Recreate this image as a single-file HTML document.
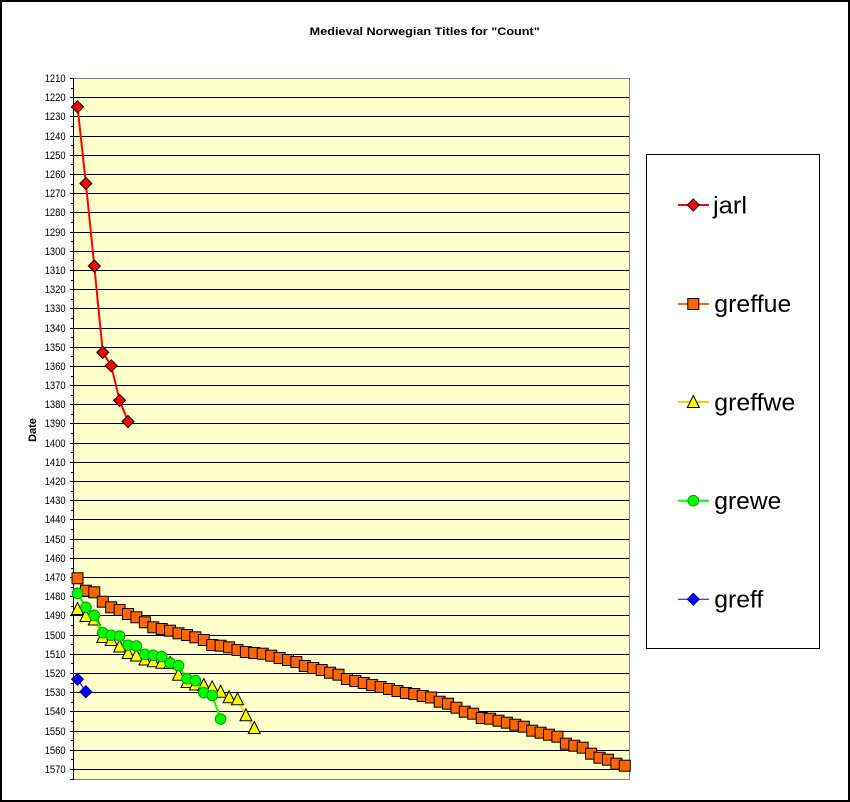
<!DOCTYPE html>
<html><head><meta charset="utf-8"><style>
html,body{margin:0;padding:0;background:#fff;}
svg{display:block;}
text{font-family:"Liberation Sans",Arial,sans-serif;}
</style></head><body>
<svg width="850" height="802" viewBox="0 0 850 802" xmlns="http://www.w3.org/2000/svg">
<rect x="0" y="0" width="850" height="802" fill="#fff"/>
<rect x="1" y="1" width="848" height="800" fill="none" stroke="#000" stroke-width="2"/>
<text x="424.7" y="35" font-size="11" font-weight="bold" text-anchor="middle" textLength="230" lengthAdjust="spacingAndGlyphs">Medieval Norwegian Titles for "Count"</text>
<text transform="translate(36,430) rotate(-90)" font-size="11" font-weight="bold" text-anchor="middle">Date</text>
<!-- plot area -->
<rect x="73.5" y="78.5" width="556" height="701" fill="#FFFFCC" stroke="#808080" stroke-width="1"/>
<path shape-rendering="crispEdges" stroke="#000" stroke-width="1" fill="none" d="M74 97.5H629M74 116.5H629M74 136.5H629M74 155.5H629M74 174.5H629M74 193.5H629M74 212.5H629M74 232.5H629M74 251.5H629M74 270.5H629M74 289.5H629M74 308.5H629M74 328.5H629M74 347.5H629M74 366.5H629M74 385.5H629M74 404.5H629M74 423.5H629M74 443.5H629M74 462.5H629M74 481.5H629M74 500.5H629M74 519.5H629M74 539.5H629M74 558.5H629M74 577.5H629M74 596.5H629M74 615.5H629M74 635.5H629M74 654.5H629M74 673.5H629M74 692.5H629M74 711.5H629M74 731.5H629M74 750.5H629M74 769.5H629"/>
<path shape-rendering="crispEdges" stroke="#000" stroke-width="1" fill="none" d="M73.5 78V780M70 78.5H73M70 97.5H73M70 116.5H73M70 136.5H73M70 155.5H73M70 174.5H73M70 193.5H73M70 212.5H73M70 232.5H73M70 251.5H73M70 270.5H73M70 289.5H73M70 308.5H73M70 328.5H73M70 347.5H73M70 366.5H73M70 385.5H73M70 404.5H73M70 423.5H73M70 443.5H73M70 462.5H73M70 481.5H73M70 500.5H73M70 519.5H73M70 539.5H73M70 558.5H73M70 577.5H73M70 596.5H73M70 615.5H73M70 635.5H73M70 654.5H73M70 673.5H73M70 692.5H73M70 711.5H73M70 731.5H73M70 750.5H73M70 769.5H73M71 88.5H73M71 107.5H73M71 126.5H73M71 145.5H73M71 164.5H73M71 184.5H73M71 203.5H73M71 222.5H73M71 241.5H73M71 260.5H73M71 280.5H73M71 299.5H73M71 318.5H73M71 337.5H73M71 356.5H73M71 376.5H73M71 395.5H73M71 414.5H73M71 433.5H73M71 452.5H73M71 472.5H73M71 491.5H73M71 510.5H73M71 529.5H73M71 548.5H73M71 568.5H73M71 587.5H73M71 606.5H73M71 625.5H73M71 644.5H73M71 663.5H73M71 683.5H73M71 702.5H73M71 721.5H73M71 740.5H73M71 759.5H73M70 779.5H73"/>
<g font-size="11" text-anchor="end">
<text x="65.7" y="82" textLength="21" lengthAdjust="spacingAndGlyphs">1210</text>
<text x="65.7" y="101" textLength="21" lengthAdjust="spacingAndGlyphs">1220</text>
<text x="65.7" y="120" textLength="21" lengthAdjust="spacingAndGlyphs">1230</text>
<text x="65.7" y="140" textLength="21" lengthAdjust="spacingAndGlyphs">1240</text>
<text x="65.7" y="159" textLength="21" lengthAdjust="spacingAndGlyphs">1250</text>
<text x="65.7" y="178" textLength="21" lengthAdjust="spacingAndGlyphs">1260</text>
<text x="65.7" y="197" textLength="21" lengthAdjust="spacingAndGlyphs">1270</text>
<text x="65.7" y="216" textLength="21" lengthAdjust="spacingAndGlyphs">1280</text>
<text x="65.7" y="236" textLength="21" lengthAdjust="spacingAndGlyphs">1290</text>
<text x="65.7" y="255" textLength="21" lengthAdjust="spacingAndGlyphs">1300</text>
<text x="65.7" y="274" textLength="21" lengthAdjust="spacingAndGlyphs">1310</text>
<text x="65.7" y="293" textLength="21" lengthAdjust="spacingAndGlyphs">1320</text>
<text x="65.7" y="312" textLength="21" lengthAdjust="spacingAndGlyphs">1330</text>
<text x="65.7" y="332" textLength="21" lengthAdjust="spacingAndGlyphs">1340</text>
<text x="65.7" y="351" textLength="21" lengthAdjust="spacingAndGlyphs">1350</text>
<text x="65.7" y="370" textLength="21" lengthAdjust="spacingAndGlyphs">1360</text>
<text x="65.7" y="389" textLength="21" lengthAdjust="spacingAndGlyphs">1370</text>
<text x="65.7" y="408" textLength="21" lengthAdjust="spacingAndGlyphs">1380</text>
<text x="65.7" y="427" textLength="21" lengthAdjust="spacingAndGlyphs">1390</text>
<text x="65.7" y="447" textLength="21" lengthAdjust="spacingAndGlyphs">1400</text>
<text x="65.7" y="466" textLength="21" lengthAdjust="spacingAndGlyphs">1410</text>
<text x="65.7" y="485" textLength="21" lengthAdjust="spacingAndGlyphs">1420</text>
<text x="65.7" y="504" textLength="21" lengthAdjust="spacingAndGlyphs">1430</text>
<text x="65.7" y="523" textLength="21" lengthAdjust="spacingAndGlyphs">1440</text>
<text x="65.7" y="543" textLength="21" lengthAdjust="spacingAndGlyphs">1450</text>
<text x="65.7" y="562" textLength="21" lengthAdjust="spacingAndGlyphs">1460</text>
<text x="65.7" y="581" textLength="21" lengthAdjust="spacingAndGlyphs">1470</text>
<text x="65.7" y="600" textLength="21" lengthAdjust="spacingAndGlyphs">1480</text>
<text x="65.7" y="619" textLength="21" lengthAdjust="spacingAndGlyphs">1490</text>
<text x="65.7" y="639" textLength="21" lengthAdjust="spacingAndGlyphs">1500</text>
<text x="65.7" y="658" textLength="21" lengthAdjust="spacingAndGlyphs">1510</text>
<text x="65.7" y="677" textLength="21" lengthAdjust="spacingAndGlyphs">1520</text>
<text x="65.7" y="696" textLength="21" lengthAdjust="spacingAndGlyphs">1530</text>
<text x="65.7" y="715" textLength="21" lengthAdjust="spacingAndGlyphs">1540</text>
<text x="65.7" y="735" textLength="21" lengthAdjust="spacingAndGlyphs">1550</text>
<text x="65.7" y="754" textLength="21" lengthAdjust="spacingAndGlyphs">1560</text>
<text x="65.7" y="773" textLength="21" lengthAdjust="spacingAndGlyphs">1570</text>
</g>

<defs>
<path id="dR" d="M0,-6L6,0L0,6L-6,0Z" fill="#FF0000" stroke="#000" stroke-width="1"/>
<rect id="sq" x="-5.5" y="-5.5" width="11" height="11" fill="#FF6600" stroke="#000" stroke-width="1"/>
<path id="tr" d="M0,-6.5L6,5.5L-6,5.5Z" fill="#FFFF00" stroke="#000" stroke-width="1"/>
<circle id="ci" r="5.3" fill="#00FF00" stroke="#00A000" stroke-width="1"/>
<path id="dB" d="M0,-6L6,0L0,6L-6,0Z" fill="#0000FF" stroke="#000080" stroke-width="1"/>
</defs>

<!-- jarl -->
<polyline fill="none" stroke="#FF0000" stroke-width="2" points="77.5,106.8 85.9,183.5 94.3,266 102.8,352.4 111.2,365.8 119.6,400.4 128,421.5"/>
<g>
<use href="#dR" x="77.5" y="106.8"/><use href="#dR" x="85.9" y="183.5"/><use href="#dR" x="94.3" y="266"/><use href="#dR" x="102.8" y="352.4"/><use href="#dR" x="111.2" y="365.8"/><use href="#dR" x="119.6" y="400.4"/><use href="#dR" x="128" y="421.5"/>
</g>

<!-- greffue -->
<polyline fill="none" stroke="#FF6600" stroke-width="2" points="77.5,578.3 85.9,590.7 94.3,592.3 102.8,601.7 111.2,607.3 119.6,610 128,614 136.4,617.3 144.9,622.3 153.3,627.3 161.7,629 170.1,630.7 178.5,633.3 187,635 195.4,637.3 203.8,640 212.2,645 220.6,645.7 229.1,647.3 237.5,650 245.9,652 254.3,653 262.7,653.7 271.2,655.7 279.6,658 288,660 296.4,662 304.8,666 313.3,668 321.7,670 330.1,672.7 338.5,674.7 346.9,679 355.4,681 363.8,683 372.2,685 380.6,687 389,689 397.5,691 405.9,693 414.3,694 422.7,696 431.1,697.5 439.6,701.7 448,703.7 456.4,707.7 464.8,711.7 473.2,713.7 481.7,718 490.1,718.7 498.5,720.7 506.9,722.7 515.3,724.7 523.8,726.7 532.2,730.7 540.6,732.7 549,734.7 557.4,736.7 565.9,743.7 574.3,745.7 582.7,747.7 591.1,753.7 599.5,757.7 608,759.7 616.4,763.7 624.8,765.7"/>
<g>
<use href="#sq" x="77.5" y="578.3"/><use href="#sq" x="85.9" y="590.7"/><use href="#sq" x="94.3" y="592.3"/><use href="#sq" x="102.8" y="601.7"/><use href="#sq" x="111.2" y="607.3"/><use href="#sq" x="119.6" y="610"/><use href="#sq" x="128" y="614"/><use href="#sq" x="136.4" y="617.3"/><use href="#sq" x="144.9" y="622.3"/><use href="#sq" x="153.3" y="627.3"/><use href="#sq" x="161.7" y="629"/><use href="#sq" x="170.1" y="630.7"/><use href="#sq" x="178.5" y="633.3"/><use href="#sq" x="187" y="635"/><use href="#sq" x="195.4" y="637.3"/><use href="#sq" x="203.8" y="640"/><use href="#sq" x="212.2" y="645"/><use href="#sq" x="220.6" y="645.7"/><use href="#sq" x="229.1" y="647.3"/><use href="#sq" x="237.5" y="650"/><use href="#sq" x="245.9" y="652"/><use href="#sq" x="254.3" y="653"/><use href="#sq" x="262.7" y="653.7"/><use href="#sq" x="271.2" y="655.7"/><use href="#sq" x="279.6" y="658"/><use href="#sq" x="288" y="660"/><use href="#sq" x="296.4" y="662"/><use href="#sq" x="304.8" y="666"/><use href="#sq" x="313.3" y="668"/><use href="#sq" x="321.7" y="670"/><use href="#sq" x="330.1" y="672.7"/><use href="#sq" x="338.5" y="674.7"/><use href="#sq" x="346.9" y="679"/><use href="#sq" x="355.4" y="681"/><use href="#sq" x="363.8" y="683"/><use href="#sq" x="372.2" y="685"/><use href="#sq" x="380.6" y="687"/><use href="#sq" x="389" y="689"/><use href="#sq" x="397.5" y="691"/><use href="#sq" x="405.9" y="693"/><use href="#sq" x="414.3" y="694"/><use href="#sq" x="422.7" y="696"/><use href="#sq" x="431.1" y="697.5"/><use href="#sq" x="439.6" y="701.7"/><use href="#sq" x="448" y="703.7"/><use href="#sq" x="456.4" y="707.7"/><use href="#sq" x="464.8" y="711.7"/><use href="#sq" x="473.2" y="713.7"/><use href="#sq" x="481.7" y="718"/><use href="#sq" x="490.1" y="718.7"/><use href="#sq" x="498.5" y="720.7"/><use href="#sq" x="506.9" y="722.7"/><use href="#sq" x="515.3" y="724.7"/><use href="#sq" x="523.8" y="726.7"/><use href="#sq" x="532.2" y="730.7"/><use href="#sq" x="540.6" y="732.7"/><use href="#sq" x="549" y="734.7"/><use href="#sq" x="557.4" y="736.7"/><use href="#sq" x="565.9" y="743.7"/><use href="#sq" x="574.3" y="745.7"/><use href="#sq" x="582.7" y="747.7"/><use href="#sq" x="591.1" y="753.7"/><use href="#sq" x="599.5" y="757.7"/><use href="#sq" x="608" y="759.7"/><use href="#sq" x="616.4" y="763.7"/><use href="#sq" x="624.8" y="765.7"/>
</g>

<!-- greffwe -->
<polyline fill="none" stroke="#FFCC00" stroke-width="2" points="77.5,609 85.9,616 94.3,619.5 102.8,637 111.2,640 119.6,646.5 128,653 136.4,655.5 144.9,659.5 153.3,661.3 161.7,662.7 170.1,663 178.5,674.7 187,682 195.4,684.5 203.8,685 212.2,687.3 220.6,691.7 229.1,697.3 237.5,699.3 245.9,715.3 254.3,728"/>
<g>
<use href="#tr" x="77.5" y="609"/><use href="#tr" x="85.9" y="616"/><use href="#tr" x="94.3" y="619.5"/><use href="#tr" x="102.8" y="637"/><use href="#tr" x="111.2" y="640"/><use href="#tr" x="119.6" y="646.5"/><use href="#tr" x="128" y="653"/><use href="#tr" x="136.4" y="655.5"/><use href="#tr" x="144.9" y="659.5"/><use href="#tr" x="153.3" y="661.3"/><use href="#tr" x="161.7" y="662.7"/><use href="#tr" x="170.1" y="663"/><use href="#tr" x="178.5" y="674.7"/><use href="#tr" x="187" y="682"/><use href="#tr" x="195.4" y="684.5"/><use href="#tr" x="203.8" y="685"/><use href="#tr" x="212.2" y="687.3"/><use href="#tr" x="220.6" y="691.7"/><use href="#tr" x="229.1" y="697.3"/><use href="#tr" x="237.5" y="699.3"/><use href="#tr" x="245.9" y="715.3"/><use href="#tr" x="254.3" y="728"/>
</g>

<!-- grewe -->
<polyline fill="none" stroke="#00FF00" stroke-width="2" points="77.5,593.3 85.9,607.3 94.3,615.3 102.8,632.7 111.2,635.3 119.6,636 128,645.3 136.4,646 144.9,654.3 153.3,655.3 161.7,656.5 170.1,663 178.5,665.5 187,678.7 195.4,680.5 203.8,692.7 212.2,695.5 220.6,719"/>
<g>
<use href="#ci" x="77.5" y="593.3"/><use href="#ci" x="85.9" y="607.3"/><use href="#ci" x="94.3" y="615.3"/><use href="#ci" x="102.8" y="632.7"/><use href="#ci" x="111.2" y="635.3"/><use href="#ci" x="119.6" y="636"/><use href="#ci" x="128" y="645.3"/><use href="#ci" x="136.4" y="646"/><use href="#ci" x="144.9" y="654.3"/><use href="#ci" x="153.3" y="655.3"/><use href="#ci" x="161.7" y="656.5"/><use href="#ci" x="170.1" y="663"/><use href="#ci" x="178.5" y="665.5"/><use href="#ci" x="187" y="678.7"/><use href="#ci" x="195.4" y="680.5"/><use href="#ci" x="203.8" y="692.7"/><use href="#ci" x="212.2" y="695.5"/><use href="#ci" x="220.6" y="719"/>
</g>

<!-- greff -->
<polyline fill="none" stroke="#0000FF" stroke-width="1" points="77.5,679.3 85.9,691.7"/>
<use href="#dB" x="77.5" y="679.3"/><use href="#dB" x="85.9" y="691.7"/>

<!-- legend -->
<rect x="646.5" y="154.5" width="173" height="494" fill="#fff" stroke="#000" stroke-width="1"/>
<line x1="678" y1="205" x2="709" y2="205" stroke="#FF0000" stroke-width="2"/>
<use href="#dR" x="693.3" y="205"/>
<text x="713" y="213.3" font-size="24" textLength="34" lengthAdjust="spacingAndGlyphs">jarl</text>
<line x1="678" y1="304" x2="709" y2="304" stroke="#FF6600" stroke-width="2"/>
<use href="#sq" x="693.3" y="304"/>
<text x="714.3" y="311.8" font-size="24" textLength="77" lengthAdjust="spacingAndGlyphs">greffue</text>
<line x1="678" y1="402" x2="709" y2="402" stroke="#FFCC00" stroke-width="2"/>
<use href="#tr" x="693.3" y="402"/>
<text x="714.3" y="410.3" font-size="24" textLength="81" lengthAdjust="spacingAndGlyphs">greffwe</text>
<line x1="678" y1="500.7" x2="709" y2="500.7" stroke="#00FF00" stroke-width="2"/>
<use href="#ci" x="693.3" y="500.7"/>
<text x="714.3" y="508.8" font-size="24" textLength="67" lengthAdjust="spacingAndGlyphs">grewe</text>
<line x1="678" y1="599.3" x2="709" y2="599.3" stroke="#0000FF" stroke-width="1"/>
<use href="#dB" x="693.3" y="599.3"/>
<text x="714.3" y="607.3" font-size="24" textLength="49" lengthAdjust="spacingAndGlyphs">greff</text>
</svg>
</body></html>
